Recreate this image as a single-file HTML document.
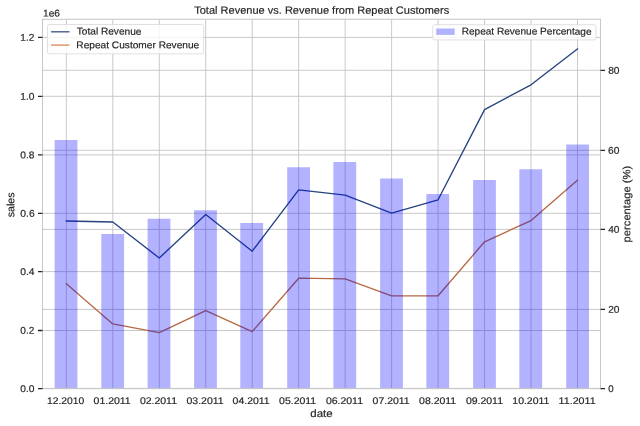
<!DOCTYPE html>
<html><head><meta charset="utf-8"><title>Total Revenue vs. Revenue from Repeat Customers</title>
<style>
html,body{margin:0;padding:0;background:#fff;}
body{width:640px;height:426px;overflow:hidden;}
svg{display:block;font-family:"Liberation Sans",sans-serif;text-rendering:geometricPrecision;}
text{stroke:#262626;stroke-width:0.18px;}
svg{will-change:transform;}
</style></head><body>
<svg width="640" height="426" viewBox="0 0 640 426">
<rect width="640" height="426" fill="#fff"/>
<path d="M66.33 19.3V388.4M112.8 19.3V388.4M159.27 19.3V388.4M205.74 19.3V388.4M252.21 19.3V388.4M298.68 19.3V388.4M345.15 19.3V388.4M391.62 19.3V388.4M438.09 19.3V388.4M484.56 19.3V388.4M531.03 19.3V388.4M577.5 19.3V388.4M42.5 388.6H600.5M42.5 330.5H600.5M42.5 271.6H600.5M42.5 213.3H600.5M42.5 154.9H600.5M42.5 96.3H600.5M42.5 37.4H600.5M42.5 388.6H600.5M42.5 309.4H600.5M42.5 229.4H600.5M42.5 150.3H600.5M42.5 70.3H600.5" stroke="#c6c6c6" stroke-width="0.95" fill="none"/>
<polyline points="66.33,221 112.8,222 159.27,258 205.74,214.5 252.21,251.2 298.68,189.9 345.15,195.2 391.62,213.1 438.09,199.8 484.56,109.6 531.03,84.8 577.5,48.9" fill="none" stroke="#27447f" stroke-width="1.35" stroke-linejoin="round" stroke-linecap="square"/>
<polyline points="66.33,283.7 112.8,323.9 159.27,332.6 205.74,310.7 252.21,331.6 298.68,278.2 345.15,278.9 391.62,295.8 438.09,295.8 484.56,241.8 531.03,220.6 577.5,180.2" fill="none" stroke="#b86a42" stroke-width="1.35" stroke-linejoin="round" stroke-linecap="square"/>
<rect x="47.5" y="24.5" width="156.1" height="29.3" rx="1.85" fill="#fff" fill-opacity="0.8" stroke="#dadada" stroke-width="0.85"/>
<path d="M51.1 31.8H69.5" stroke="#3f5688" stroke-width="1.35"/>
<path d="M51.1 45.1H69.5" stroke="#d98d62" stroke-width="1.35"/>
<text x="76.78" y="34.6" font-size="9.75" textLength="64.68" lengthAdjust="spacingAndGlyphs" fill="#262626" transform="rotate(0.04 76.78 34.6)">Total Revenue</text>
<text x="76.37" y="48.2" font-size="9.75" textLength="122.88" lengthAdjust="spacingAndGlyphs" fill="#262626" transform="rotate(0.04 76.37 48.2)">Repeat Customer Revenue</text>
<path d="M54.63 140H77.43V388.4H54.63ZM101.3 234.1H124.1V388.4H101.3ZM147.6 218.75H170.4V388.4H147.6ZM194.1 210.3H216.9V388.4H194.1ZM240.3 223H263.1V388.4H240.3ZM287.2 167.3H310V388.4H287.2ZM333.4 162.1H356.2V388.4H333.4ZM380.1 178.6H402.9V388.4H380.1ZM426.35 193.9H449.15V388.4H426.35ZM473.1 180H495.9V388.4H473.1ZM519.35 169.25H542.15V388.4H519.35ZM566.2 144.5H589V388.4H566.2Z" fill="#0000ff" fill-opacity="0.3"/>
<rect x="42.5" y="19.3" width="558" height="369.1" fill="none" stroke="#c8c8c8" stroke-width="1.05"/>
<path d="M38 388.6H42.5M38 330.5H42.5M38 271.6H42.5M38 213.3H42.5M38 154.9H42.5M38 96.3H42.5M38 37.4H42.5M600.5 388.6H605M600.5 309.4H605M600.5 229.4H605M600.5 150.3H605M600.5 70.3H605" stroke="#262626" stroke-width="1.3"/>
<text x="20.33" y="391.97" font-size="9.75" textLength="14.21" lengthAdjust="spacingAndGlyphs" fill="#262626" transform="rotate(0.04 20.33 391.97)">0.0</text>
<text x="20.33" y="333.87" font-size="9.75" textLength="14" lengthAdjust="spacingAndGlyphs" fill="#262626" transform="rotate(0.04 20.33 333.87)">0.2</text>
<text x="20.33" y="274.97" font-size="9.75" textLength="14.21" lengthAdjust="spacingAndGlyphs" fill="#262626" transform="rotate(0.04 20.33 274.97)">0.4</text>
<text x="20.32" y="216.67" font-size="9.75" textLength="14.3" lengthAdjust="spacingAndGlyphs" fill="#262626" transform="rotate(0.04 20.32 216.67)">0.6</text>
<text x="20.33" y="158.27" font-size="9.75" textLength="14.24" lengthAdjust="spacingAndGlyphs" fill="#262626" transform="rotate(0.04 20.33 158.27)">0.8</text>
<text x="20.35" y="99.67" font-size="9.75" textLength="14.19" lengthAdjust="spacingAndGlyphs" fill="#262626" transform="rotate(0.04 20.35 99.67)">1.0</text>
<text x="20.36" y="40.77" font-size="9.75" textLength="13.97" lengthAdjust="spacingAndGlyphs" fill="#262626" transform="rotate(0.04 20.36 40.77)">1.2</text>
<text x="608.23" y="391.97" font-size="9.75" textLength="5.39" lengthAdjust="spacingAndGlyphs" fill="#262626" transform="rotate(0.04 608.23 391.97)">0</text>
<text x="608.16" y="312.77" font-size="9.75" textLength="11.33" lengthAdjust="spacingAndGlyphs" fill="#262626" transform="rotate(0.04 608.16 312.77)">20</text>
<text x="608.22" y="232.77" font-size="9.75" textLength="11.28" lengthAdjust="spacingAndGlyphs" fill="#262626" transform="rotate(0.04 608.22 232.77)">40</text>
<text x="608.12" y="153.67" font-size="9.75" textLength="11.37" lengthAdjust="spacingAndGlyphs" fill="#262626" transform="rotate(0.04 608.12 153.67)">60</text>
<text x="608.18" y="73.67" font-size="9.75" textLength="11.31" lengthAdjust="spacingAndGlyphs" fill="#262626" transform="rotate(0.04 608.18 73.67)">80</text>
<text x="46.95" y="404.1" font-size="9.65" textLength="37.21" lengthAdjust="spacingAndGlyphs" fill="#262626" transform="rotate(0.04 46.95 404.1)">12.2010</text>
<text x="93.6" y="404.1" font-size="9.65" textLength="37.09" lengthAdjust="spacingAndGlyphs" fill="#262626" transform="rotate(0.04 93.6 404.1)">01.2011</text>
<text x="139.9" y="404.1" font-size="9.65" textLength="37.09" lengthAdjust="spacingAndGlyphs" fill="#262626" transform="rotate(0.04 139.9 404.1)">02.2011</text>
<text x="186.5" y="404.1" font-size="9.65" textLength="37.09" lengthAdjust="spacingAndGlyphs" fill="#262626" transform="rotate(0.04 186.5 404.1)">03.2011</text>
<text x="232.6" y="404.1" font-size="9.65" textLength="37.09" lengthAdjust="spacingAndGlyphs" fill="#262626" transform="rotate(0.04 232.6 404.1)">04.2011</text>
<text x="279.1" y="404.1" font-size="9.65" textLength="37.09" lengthAdjust="spacingAndGlyphs" fill="#262626" transform="rotate(0.04 279.1 404.1)">05.2011</text>
<text x="325.9" y="404.1" font-size="9.65" textLength="37.09" lengthAdjust="spacingAndGlyphs" fill="#262626" transform="rotate(0.04 325.9 404.1)">06.2011</text>
<text x="372.6" y="404.1" font-size="9.65" textLength="37.09" lengthAdjust="spacingAndGlyphs" fill="#262626" transform="rotate(0.04 372.6 404.1)">07.2011</text>
<text x="419.1" y="404.1" font-size="9.65" textLength="37.09" lengthAdjust="spacingAndGlyphs" fill="#262626" transform="rotate(0.04 419.1 404.1)">08.2011</text>
<text x="465.9" y="404.1" font-size="9.65" textLength="37.09" lengthAdjust="spacingAndGlyphs" fill="#262626" transform="rotate(0.04 465.9 404.1)">09.2011</text>
<text x="512.32" y="404.1" font-size="9.65" textLength="37.07" lengthAdjust="spacingAndGlyphs" fill="#262626" transform="rotate(0.04 512.32 404.1)">10.2011</text>
<text x="558.57" y="404.1" font-size="9.65" textLength="37.07" lengthAdjust="spacingAndGlyphs" fill="#262626" transform="rotate(0.04 558.57 404.1)">11.2011</text>
<text x="42.97" y="16.4" font-size="9.75" textLength="17" lengthAdjust="spacingAndGlyphs" fill="#262626" transform="rotate(0.04 42.97 16.4)">1e6</text>
<text x="310.34" y="417" font-size="10.55" textLength="22.35" lengthAdjust="spacingAndGlyphs" fill="#262626" transform="rotate(0.04 310.34 417)">date</text>
<text x="0" y="0" font-size="10.55" textLength="24.68" lengthAdjust="spacingAndGlyphs" fill="#262626" transform="translate(14.2 217.19) rotate(-89.96)">sales</text>
<text x="0" y="0" font-size="10.55" textLength="76.62" lengthAdjust="spacingAndGlyphs" fill="#262626" transform="translate(630.3 242.42) rotate(-89.96)">percentage (%)</text>
<text x="194.18" y="13.7" font-size="10.55" textLength="254.99" lengthAdjust="spacingAndGlyphs" fill="#262626" transform="rotate(0.04 194.18 13.7)">Total Revenue vs. Revenue from Repeat Customers</text>
<rect x="432.7" y="24.7" width="163.2" height="15.2" rx="1.85" fill="#fff" fill-opacity="0.8" stroke="#dadada" stroke-width="0.85"/>
<rect x="436.2" y="28.5" width="18.5" height="6.4" fill="#0000ff" fill-opacity="0.3"/>
<text x="461.67" y="34.55" font-size="9.75" textLength="129.93" lengthAdjust="spacingAndGlyphs" fill="#262626" transform="rotate(0.04 461.67 34.55)">Repeat Revenue Percentage</text>
</svg>
</body></html>
